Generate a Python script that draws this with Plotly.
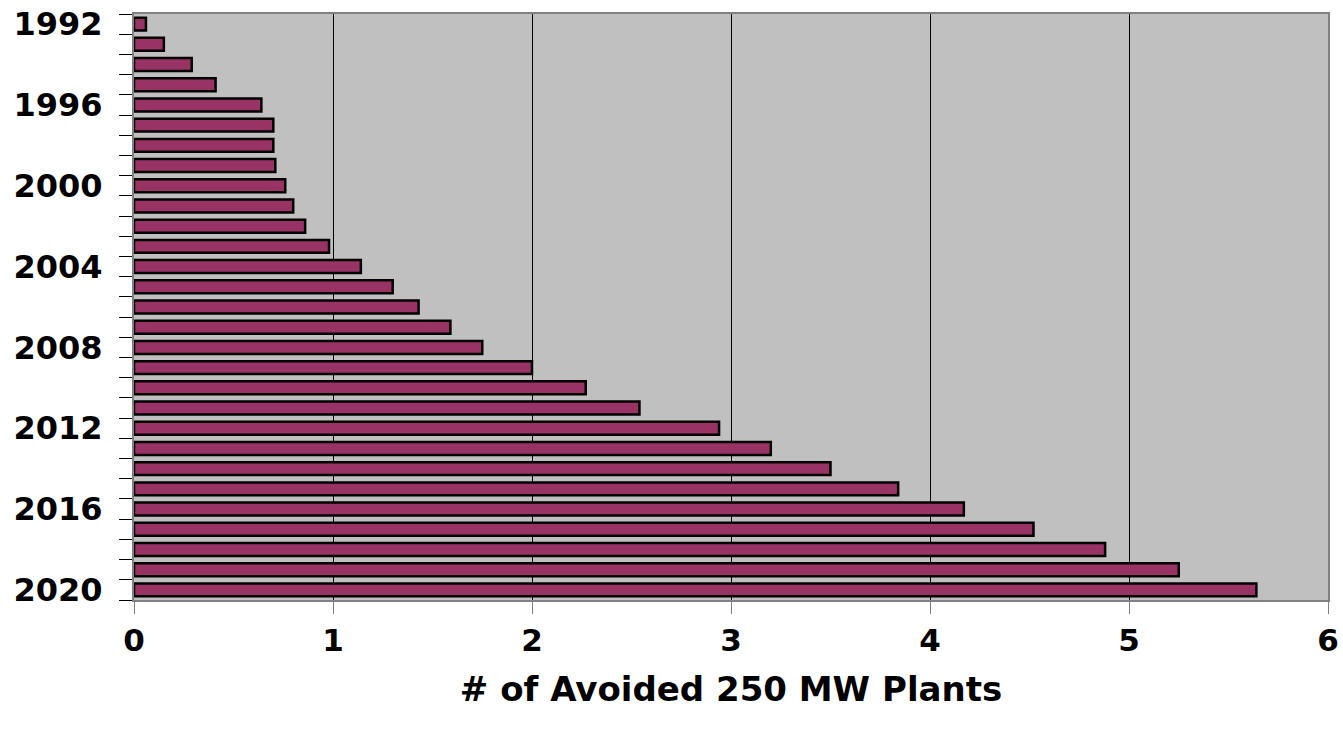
import plotly.graph_objects as go

years = list(range(1992, 2021))
avoided_plants = [0.06, 0.15, 0.29, 0.41, 0.64, 0.70, 0.70, 0.71, 0.76,
                  0.80, 0.86, 0.98, 1.14, 1.30, 1.43, 1.59, 1.75, 2.00,
                  2.27, 2.54, 2.94, 3.20, 3.50, 3.84, 4.17, 4.52, 4.88,
                  5.25, 5.64]
year_ticks = list(range(1992, 2021, 4))
x_ticks = [0, 1, 2, 3, 4, 5, 6]
x_title = "# of Avoided 250 MW Plants"

FONT = "DejaVu Sans, Liberation Sans, Arial, sans-serif"

fig = go.Figure()
fig.add_trace(go.Bar(
    x=avoided_plants, y=years, orientation="h",
    width=0.64,
    marker=dict(color="#993366", line=dict(color="black", width=2.5)),
    hoverinfo="x+y",
))

fig.update_layout(
    width=1343, height=734,
    margin=dict(l=134, r=15, t=14, b=134),
    paper_bgcolor="white", plot_bgcolor="#C0C0C0",
    showlegend=False,
    font=dict(family=FONT, color="black"),
)
fig.update_xaxes(
    range=[0, 6], tickvals=x_ticks,
    showgrid=True, gridcolor="black", gridwidth=1,
    zeroline=False, automargin=False,
    ticks="outside", ticklen=12, tickcolor="#808080", tickwidth=1,
    showline=True, linecolor="#808080", linewidth=2, mirror=True,
    tickfont=dict(family=FONT, size=31, color="black", weight="bold"),
    ticklabelstandoff=0,
    title=dict(text="<b>" + x_title + "</b>", font=dict(family=FONT, size=34, color="black"), standoff=20),
)
fig.update_yaxes(
    range=[2020.5, 1991.5], tickvals=year_ticks,
    showgrid=False, zeroline=False, automargin=False,
    ticks="outside", ticklen=13, tickcolor="rgba(0,0,0,0)",
    showline=True, linecolor="#808080", linewidth=2, mirror=True,
    tickfont=dict(family=FONT, size=32, color="black", weight="bold"),
    ticklabelstandoff=10,
    minor=dict(ticks="outside", tick0=1991.5, dtick=1, ticklen=13, tickcolor="black", tickwidth=1, showgrid=False),
)

fig.write_html("out.html", config={"displayModeBar": False},
               post_script="document.body.style.margin='0';")
